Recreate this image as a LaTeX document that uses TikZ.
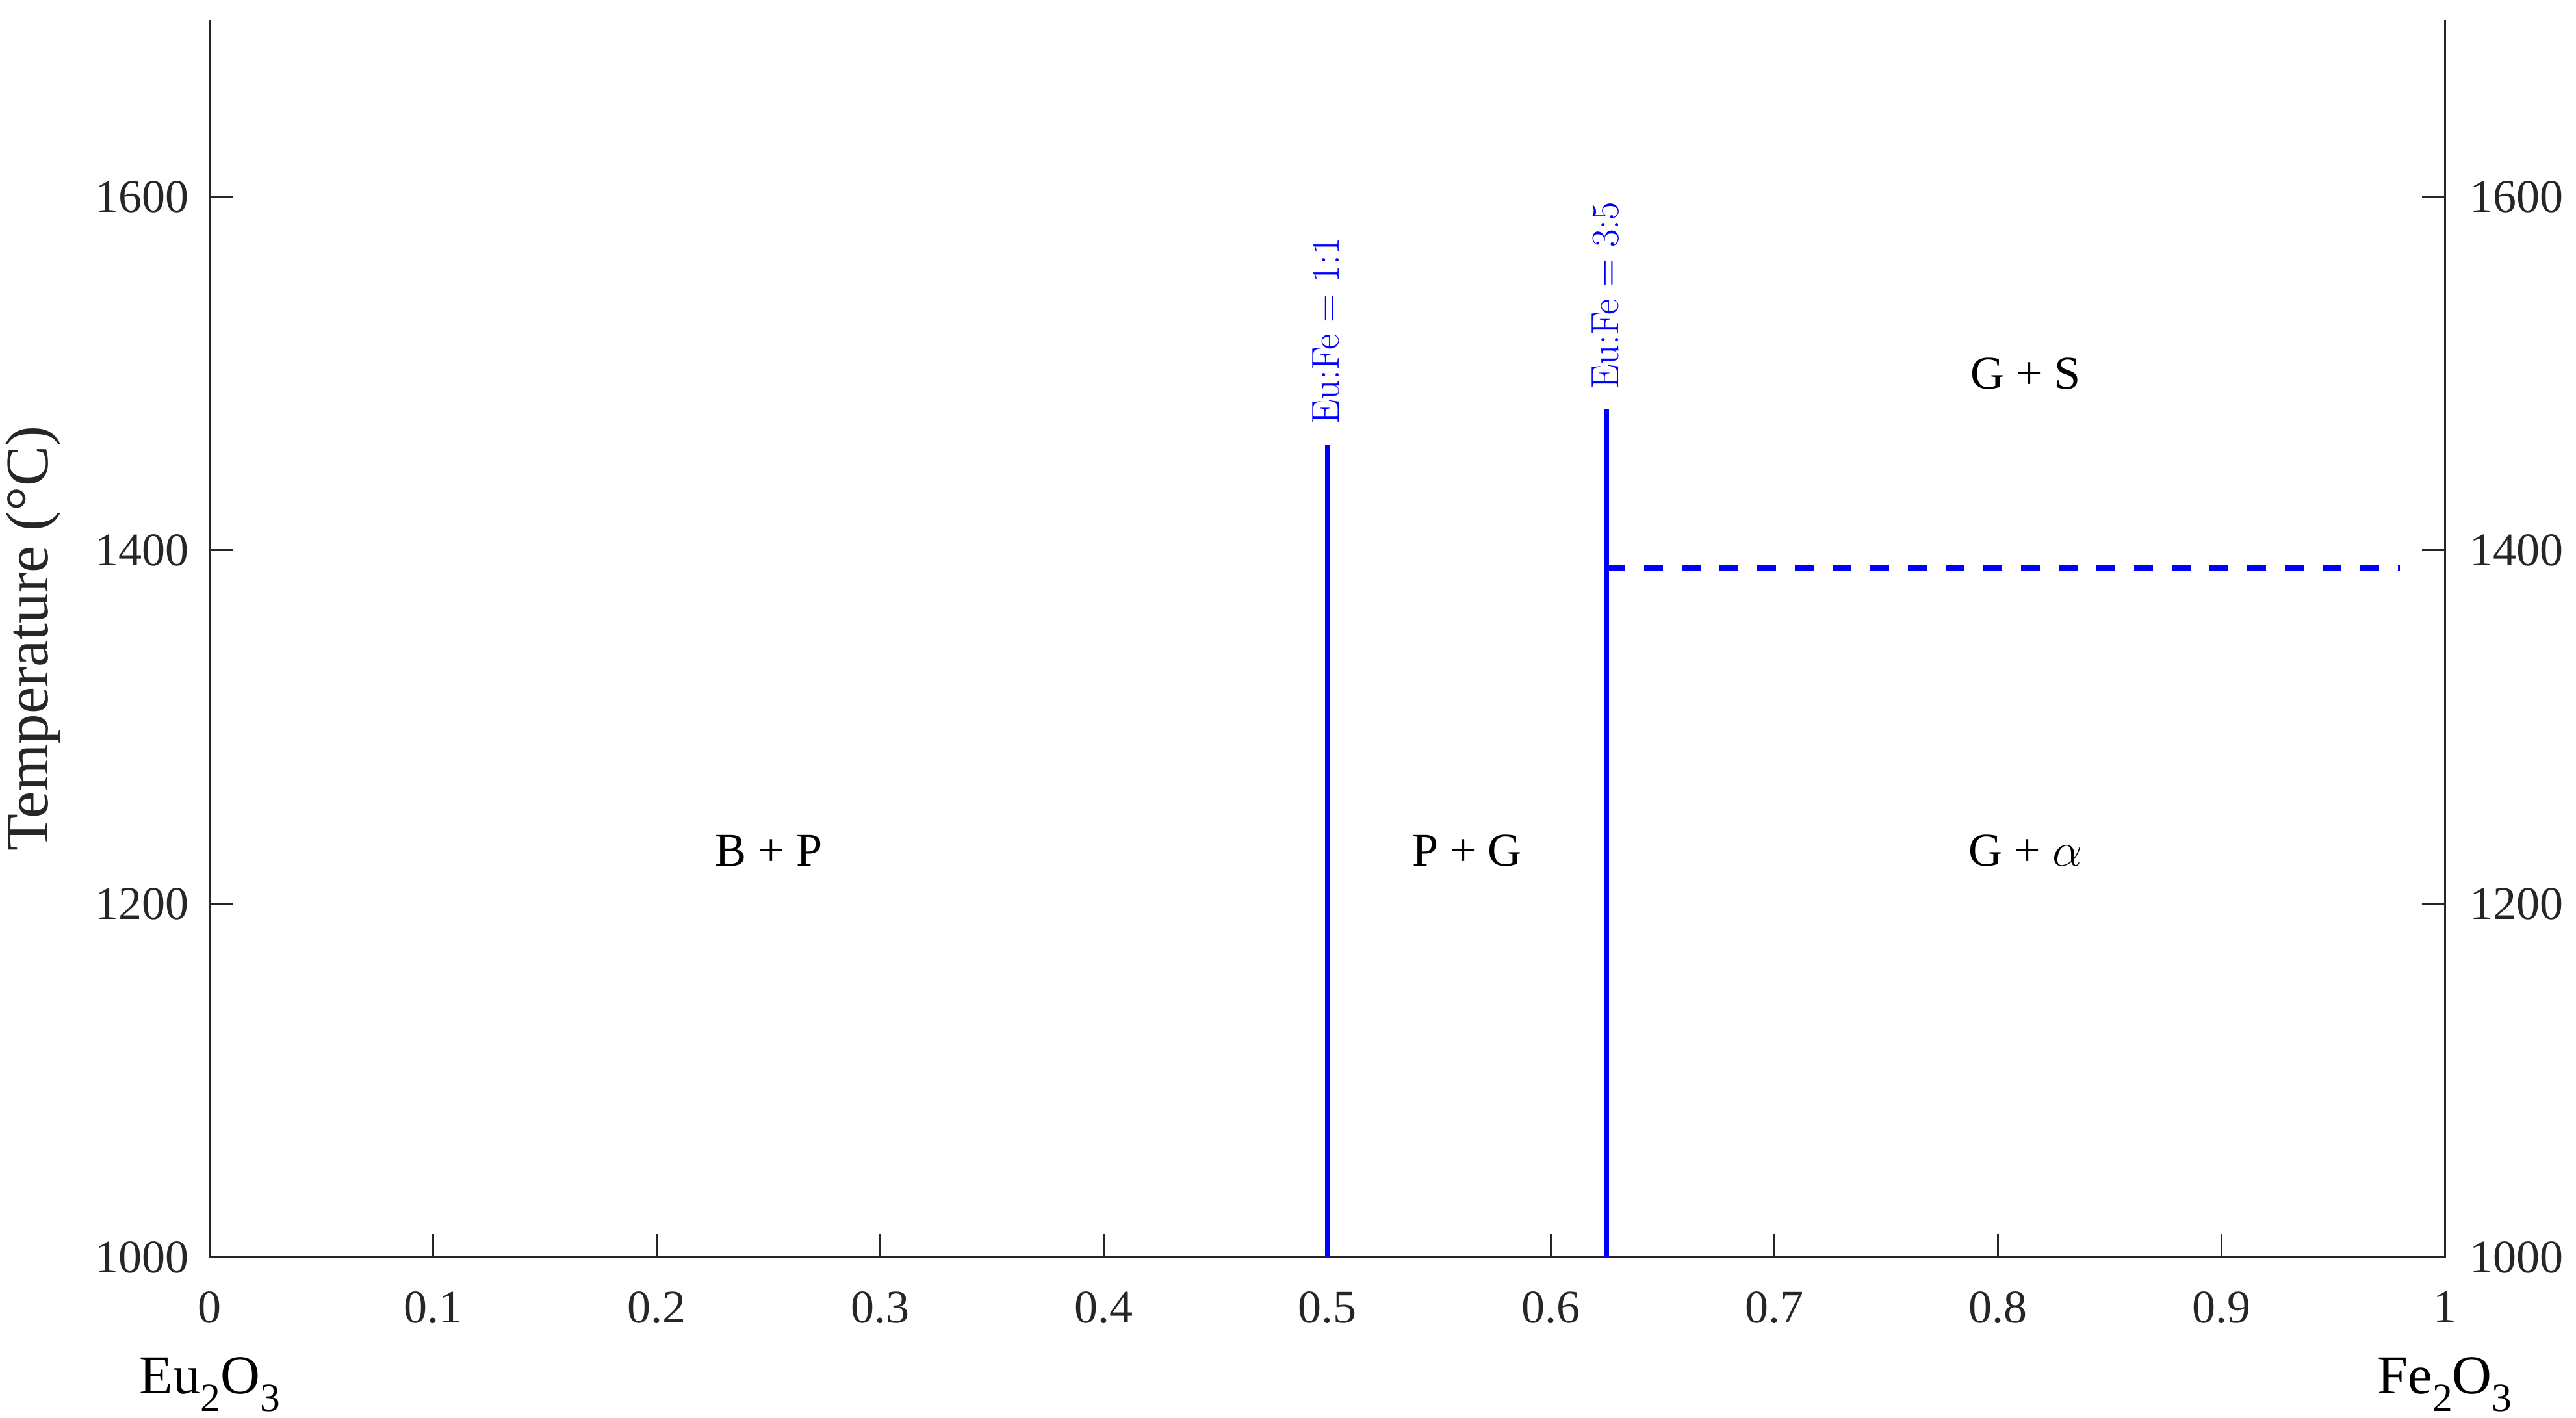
\documentclass[tikz,border=0pt]{standalone}
\usepackage{fontspec}
\setmainfont{Liberation Serif}
\usetikzlibrary{calc}
\definecolor{axcol}{rgb}{0.15,0.15,0.15}
\definecolor{phblue}{rgb}{0,0,1}
\newcommand\lowsub[1]{\raisebox{-0.32em}{\fontsize{17.5}{20}\selectfont #1}}
\tikzset{
  axisline/.style={draw=axcol, line width=0.85pt},
  ticklabel/.style={text=axcol, font=\fontsize{20.5}{24}\selectfont, inner sep=0pt},
  regionlabel/.style={text=black, font=\fontsize{20.5}{24}\selectfont, inner sep=0pt},
  phaseline/.style={draw=phblue, line width=2pt},
  phasedash/.style={draw=phblue, line width=2pt, dash pattern=on 0.29cm off 0.29cm},
  ratiolabel/.style={text=phblue, font=\fontfamily{lmr}\fontsize{17}{20}\selectfont, rotate=90, anchor=west, inner sep=0pt},
  endlabel/.style={text=black, font=\fontsize{24}{28}\selectfont, inner sep=0pt}
}
\begin{document}
\begin{tikzpicture}
\useasboundingbox (0,0) rectangle (39.64cm,21.81cm);
\begin{scope}[x=34.39cm, y=0.027195cm, shift={(3.23cm,-24.725cm)}]
  % axes
  \coordinate (tl) at (0,1700);
  \coordinate (bl) at (0,1000);
  \coordinate (br) at (1,1000);
  \coordinate (tr) at (1,1700);
  \draw[axisline] (tl) -- (bl) -- (br) -- (tr);
  % y ticks and labels
  \foreach \t in {1000,1200,1400,1600} {
    \draw[axisline] (0,\t) -- ++(0.35cm,0);
    \draw[axisline] (1,\t) -- ++(-0.35cm,0);
    \node[ticklabel, anchor=east] (yl\t) at ($(0,\t)+(-0.32cm,0)$) {\t};
    \node[ticklabel, anchor=west] (yr\t) at ($(1,\t)+(0.38cm,0)$) {\t};
  }
  % x ticks and labels
  \foreach \d/\lab in {0/0,0.1/0.1,0.2/0.2,0.3/0.3,0.4/0.4,0.5/0.5,0.6/0.6,0.7/0.7,0.8/0.8,0.9/0.9,1/1} {
    \draw[axisline] (\d,1000) -- ++(0,0.35cm);
    \node[ticklabel, anchor=north] (xl\lab) at ($(\d,1000)+(0,-0.52cm)$) {\lab};
  }
  % axis title
  \node[text=axcol, font=\fontsize{26.5}{30}\selectfont, rotate=90, inner sep=0pt] (ytitle) at ($(0,1350)+(-2.72cm,0)$) {Temperature (°C)};
  % end members
  \node[endlabel, anchor=base] (eu) at ($(0,1000)+(0,-2.10cm)$) {Eu\lowsub{2}O\lowsub{3}};
  \node[endlabel, anchor=base] (fe) at ($(1,1000)+(0,-2.10cm)$) {Fe\lowsub{2}O\lowsub{3}};
  % phase boundaries
  \coordinate (a0) at (0.5,1000);
  \coordinate (a1) at (0.5,1460);
  \coordinate (b0) at (0.625,1000);
  \coordinate (b1) at (0.625,1480);
  \coordinate (c0) at (0.625,1390);
  \coordinate (c1) at (0.98,1390);
  \draw[phaseline] (a0) -- (a1);
  \draw[phaseline] (b0) -- (b1);
  \draw[phasedash] (c0) -- (c1);
  \node[ratiolabel] (ra) at ($(a1)+(-0.02cm,0.30cm)$) {Eu:Fe = 1:1};
  \node[ratiolabel] (rb) at ($(b1)+(-0.02cm,0.30cm)$) {Eu:Fe = 3:5};
  % region labels
  \node[regionlabel] (bp) at (0.25,1230) {B + P};
  \node[regionlabel] (pg) at (0.5625,1230) {P + G};
  \node[regionlabel] (ga) at (0.8125,1230) {G + $\alpha$};
  \node[regionlabel] (gs) at (0.8125,1500) {G + S};
\end{scope}
\end{tikzpicture}
\end{document}
